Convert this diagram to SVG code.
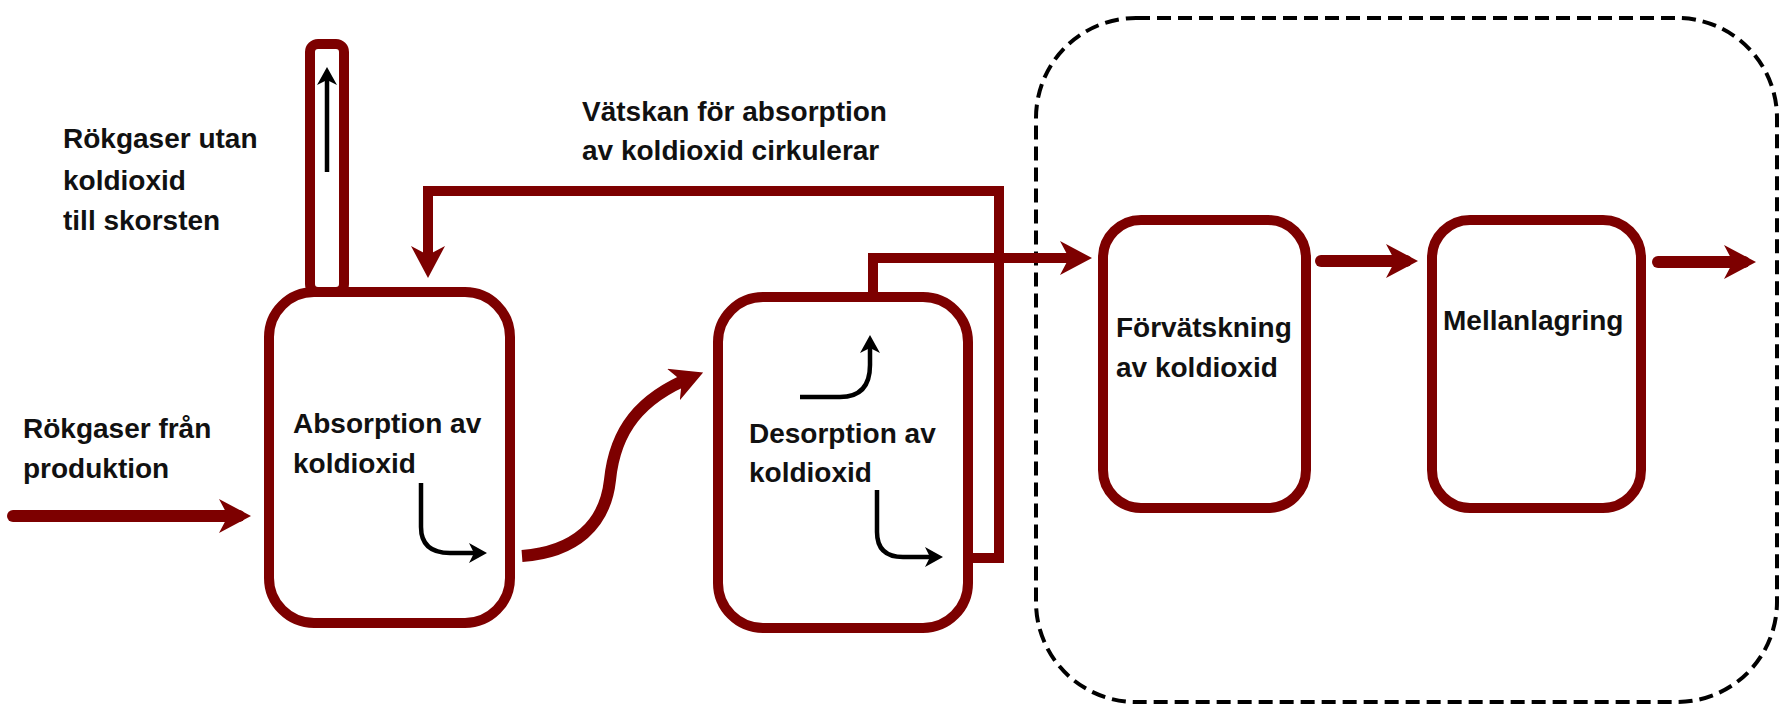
<svg xmlns="http://www.w3.org/2000/svg" width="1781" height="706" viewBox="0 0 1781 706">
<style>
.box{fill:#fff;stroke:#7d0000;stroke-width:10}
.pipe{fill:none;stroke:#7d0000;stroke-width:10;stroke-linejoin:miter}
.flow{fill:none;stroke:#7d0000;stroke-width:12;stroke-linecap:round}
.blk{fill:none;stroke:#000;stroke-width:4.5}
.lbl{font-family:"Liberation Sans",Arial,sans-serif;font-weight:bold;font-size:28px;fill:#111}
.dash{fill:none;stroke:#000;stroke-width:4;stroke-dasharray:14 7}
</style>
<defs>
<marker id="ah" markerUnits="userSpaceOnUse" markerWidth="34" markerHeight="36" refX="20" refY="17" orient="auto">
<path d="M0,0 L32,17 L0,34 L9,17 Z" fill="#7d0000"/>
</marker>
<marker id="bh" markerUnits="userSpaceOnUse" markerWidth="20" markerHeight="22" refX="9" refY="10" orient="auto">
<path d="M0,0 L18,10 L0,20 L5,10 Z" fill="#000"/>
</marker>
</defs>
<rect id="boundary" class="dash" x="1036" y="18" width="741" height="684" rx="100" ry="100"/>
<g id="connectors">
<path class="flow" d="M13,516 L239,516" marker-end="url(#ah)"/>
<path class="pipe" d="M968,558 L999,558 L999,191 L428,191 L428,266" marker-end="url(#ah)"/>
<path class="pipe" d="M873,292 L873,258 L1080,258" marker-end="url(#ah)"/>
<path class="flow" style="stroke-linecap:butt" d="M522,556 C575,552 605,525 610,480 C615,430 640,398 692,377" marker-end="url(#ah)"/>
<path class="flow" d="M1321,261 L1406,261" marker-end="url(#ah)"/>
<path class="flow" d="M1658,262 L1744,262" marker-end="url(#ah)"/>
</g>
<g id="stack">
<rect class="box" x="310" y="44" width="34" height="248" rx="8" ry="8"/>
<path class="blk" d="M327,172 L327,76" marker-end="url(#bh)"/>
</g>
<g id="absorption">
<rect class="box" x="269" y="292" width="241" height="331" rx="45" ry="45"/>
<text class="lbl" x="293" y="433">Absorption av</text>
<text class="lbl" x="293" y="473">koldioxid</text>
<path class="blk" d="M421,483 L421,527 Q421,553 450,553 L478,553" marker-end="url(#bh)"/>
</g>
<g id="desorption">
<rect class="box" x="718" y="297" width="250" height="331" rx="45" ry="45"/>
<text class="lbl" x="749" y="443">Desorption av</text>
<text class="lbl" x="749" y="482">koldioxid</text>
<path class="blk" d="M800,397 L840,397 Q870,397 870,365 L870,344" marker-end="url(#bh)"/>
<path class="blk" d="M877,490 L877,532 Q877,557 903,557 L934,557" marker-end="url(#bh)"/>
</g>
<g id="forvatskning">
<rect class="box" x="1103" y="220" width="203" height="288" rx="38" ry="38"/>
<text class="lbl" x="1116" y="337">Förvätskning</text>
<text class="lbl" x="1116" y="377">av koldioxid</text>
</g>
<g id="mellanlagring">
<rect class="box" x="1432" y="220" width="209" height="288" rx="38" ry="38"/>
<text class="lbl" x="1443" y="330">Mellanlagring</text>
</g>
<g id="labels">
<text class="lbl" x="63" y="148">Rökgaser utan</text>
<text class="lbl" x="63" y="190">koldioxid</text>
<text class="lbl" x="63" y="230">till skorsten</text>
<text class="lbl" x="23" y="438">Rökgaser från</text>
<text class="lbl" x="23" y="478">produktion</text>
<text class="lbl" x="582" y="121">Vätskan för absorption</text>
<text class="lbl" x="582" y="160">av koldioxid cirkulerar</text>
</g>
</svg>
